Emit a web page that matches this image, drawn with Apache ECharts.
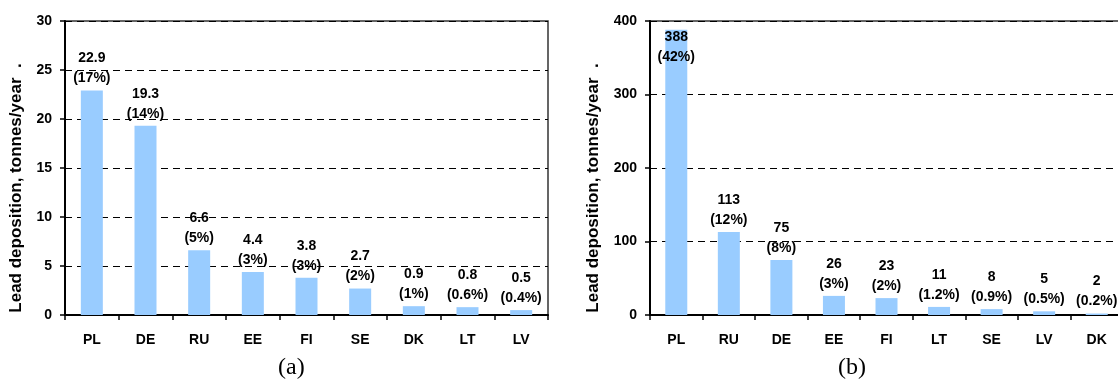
<!DOCTYPE html>
<html>
<head>
<meta charset="utf-8">
<script src="https://cdn.jsdelivr.net/npm/echarts@6/dist/echarts.min.js"></script>
<style>
  html, body { margin: 0; padding: 0; overflow: hidden; background: #fff; }
  #chart { width: 1130px; height: 382px; }
</style>
</head>
<body>
<div id="chart"></div>
<script>
// Panel (a): lead deposition by country, tonnes/year, with share of total
const countriesA = ['PL', 'DE', 'RU', 'EE', 'FI', 'SE', 'DK', 'LT', 'LV'];
const depositionA = [22.9, 19.3, 6.6, 4.4, 3.8, 2.7, 0.9, 0.8, 0.5];
const shareA = ['17%', '14%', '5%', '3%', '3%', '2%', '1%', '0.6%', '0.4%'];
const axisA = { min: 0, max: 30, interval: 5 };

// Panel (b): lead deposition by country, tonnes/year, with share of total
const countriesB = ['PL', 'RU', 'DE', 'EE', 'FI', 'LT', 'SE', 'LV', 'DK'];
const depositionB = [388, 113, 75, 26, 23, 11, 8, 5, 2];
const shareB = ['42%', '12%', '8%', '3%', '2%', '1.2%', '0.9%', '0.5%', '0.2%'];
const axisB = { min: 0, max: 400, interval: 100 };

const panelLetters = ['(a)', '(b)'];
const yTitle = 'Lead deposition, tonnes/year  .';

const FONT = 'Arial, "Liberation Sans", sans-serif';
const BAR = '#99ccff';

const grids = [
  { left: 65, top: 21, width: 483, height: 294 },
  { left: 650, top: 21, width: 473, height: 294 }
];

function xAxisFor(idx, cats) {
  return {
    type: 'category', gridIndex: idx, data: cats,
    axisLine: { lineStyle: { color: '#000', width: 2 } },
    axisTick: { show: true, length: 5, lineStyle: { color: '#000', width: 1.5 } },
    axisLabel: { color: '#000', fontFamily: FONT, fontWeight: 'bold', fontSize: 14, margin: 18 }
  };
}

function yAxisFor(idx, ax, gap) {
  return {
    type: 'value', gridIndex: idx, min: ax.min, max: ax.max, interval: ax.interval,
    name: yTitle, nameLocation: 'middle', nameRotate: 90, nameGap: gap,
    nameTextStyle: { color: '#000', fontFamily: FONT, fontWeight: 'bold', fontSize: 17, padding: [0, 40, 0, 0] },
    axisLine: { show: true, lineStyle: { color: '#000', width: 2 } },
    axisTick: { show: true, length: 5, lineStyle: { color: '#000', width: 1.5 } },
    axisLabel: { color: '#000', fontFamily: FONT, fontWeight: 'bold', fontSize: 14, margin: 13 },
    splitLine: { show: true, lineStyle: { color: '#000', width: 1, type: [7, 5] } }
  };
}

function barSeries(idx, values, shares, ax) {
  return {
    type: 'bar', xAxisIndex: idx, yAxisIndex: idx,
    barWidth: 22,
    itemStyle: { color: BAR },
    data: values.map(v => {
      // a bar reaching the top of the scale carries its label inside
      const inside = v > ax.max * 0.9;
      return inside
        ? { value: v, label: { position: 'insideTop', distance: -3 } }
        : { value: v };
    }),
    label: {
      show: true, position: 'top', distance: 2,
      color: '#000', fontFamily: FONT, fontWeight: 'bold', fontSize: 14, lineHeight: 20,
      formatter: p => p.value + '\n(' + shares[p.dataIndex] + ')'
    }
  };
}

const chart = echarts.init(document.getElementById('chart'), null, { renderer: 'canvas' });
chart.setOption({
  animation: false,
  backgroundColor: '#fff',
  grid: grids.map(g => Object.assign({ show: true, borderColor: '#333', borderWidth: 1.5, backgroundColor: 'transparent' }, g)),
  xAxis: [xAxisFor(0, countriesA), xAxisFor(1, countriesB)],
  yAxis: [yAxisFor(0, axisA, 40), yAxisFor(1, axisB, 48)],
  series: [barSeries(0, depositionA, shareA, axisA), barSeries(1, depositionB, shareB, axisB)],
  graphic: [
    { type: 'text', left: 278, top: 356, style: { text: panelLetters[0], font: '24px "Liberation Serif", "Times New Roman", serif', fill: '#000' } },
    { type: 'text', left: 838, top: 356, style: { text: panelLetters[1], font: '24px "Liberation Serif", "Times New Roman", serif', fill: '#000' } }
  ]
});
</script>
</body>
</html>
